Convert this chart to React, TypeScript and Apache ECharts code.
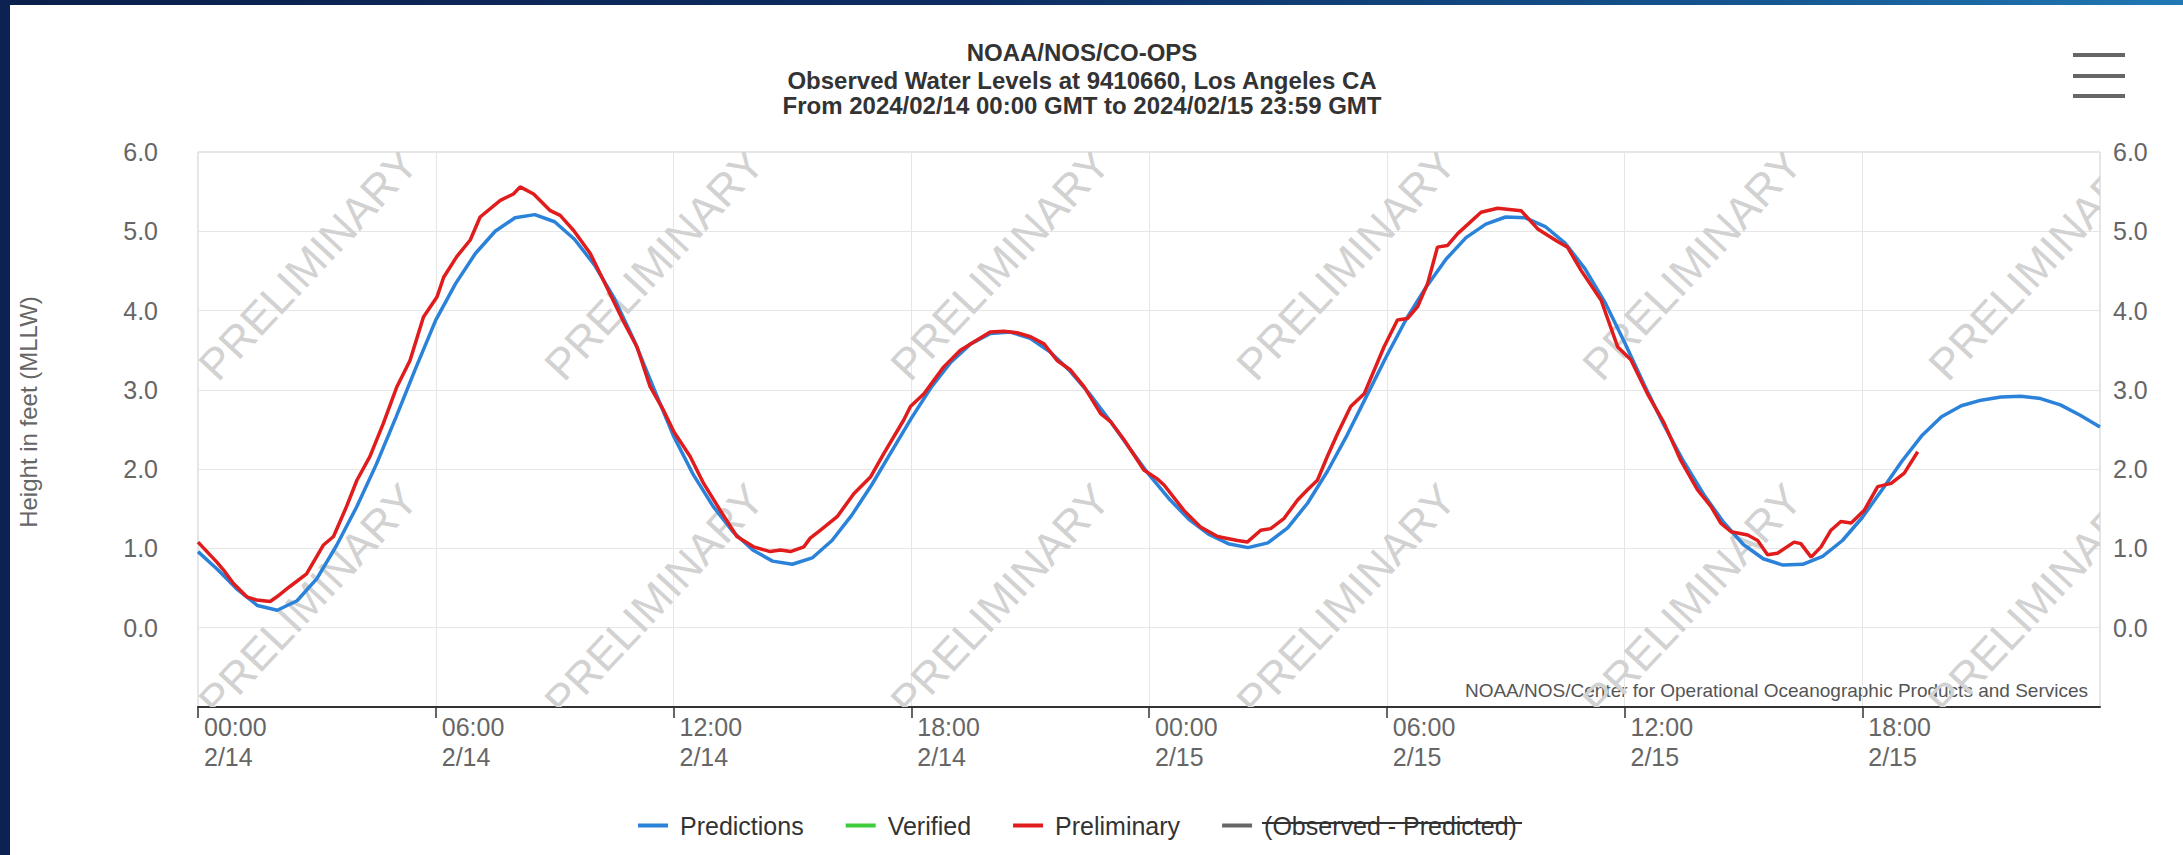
import React, { useEffect, useRef } from "react";
import * as echarts from "echarts";

// ---------- data (hours after 2024/02/14 00:00 GMT) ----------
const PRED_HOURS: number[] = [
  0, 0.5, 1, 1.5, 2, 2.5, 3, 3.5, 4, 4.5, 5, 5.5, 6, 6.5, 7, 7.5, 8, 8.5, 9, 9.5, 10, 10.5, 11, 11.5,
  12, 12.5, 13, 13.5, 14, 14.5, 15, 15.5, 16, 16.5, 17, 17.5, 18, 18.5, 19, 19.5, 20, 20.5, 21, 21.5, 22, 22.5, 23, 23.5,
  24, 24.5, 25, 25.5, 26, 26.5, 27, 27.5, 28, 28.5, 29, 29.5, 30, 30.5, 31, 31.5, 32, 32.5, 33, 33.5, 34, 34.5, 35, 35.5,
  36, 36.5, 37, 37.5, 38, 38.5, 39, 39.5, 40, 40.5, 41, 41.5, 42, 42.5, 43, 43.5, 44, 44.5, 45, 45.5, 46, 46.5, 47, 47.5, 48,
];
const PRED_VALUES: number[] = [
  0.96, 0.73, 0.48, 0.28, 0.22, 0.34, 0.62, 1.04, 1.52, 2.06, 2.66, 3.28, 3.88, 4.34, 4.72, 5.0, 5.17, 5.21, 5.12, 4.9, 4.58, 4.16, 3.63, 3.02,
  2.42, 1.93, 1.53, 1.21, 0.98, 0.84, 0.8, 0.88, 1.1, 1.42, 1.8, 2.22, 2.64, 3.03, 3.35, 3.58, 3.71, 3.73, 3.65, 3.48, 3.24, 2.95, 2.62, 2.27,
  1.93, 1.63, 1.37, 1.18, 1.06, 1.01, 1.07, 1.26, 1.57, 1.97, 2.43, 2.93, 3.43, 3.9, 4.3, 4.65, 4.92, 5.09, 5.18, 5.17, 5.06, 4.85, 4.53, 4.11,
  3.6, 3.06, 2.55, 2.09, 1.68, 1.33, 1.05, 0.87, 0.79, 0.8, 0.9, 1.1, 1.39, 1.74, 2.1, 2.42, 2.66, 2.8, 2.87, 2.91, 2.92, 2.89, 2.81, 2.68, 2.53,
];

const PRELIM_HOURS: number[] = [
  0, 0.47, 0.64, 0.89, 1.23, 1.48, 1.82, 1.99, 2.32, 2.74, 3.16, 3.42, 3.75, 4.01, 4.34, 4.68, 5.02, 5.35, 5.69, 6.03,
  6.2, 6.53, 6.87, 7.12, 7.63, 7.96, 8.13, 8.47, 8.89, 9.14, 9.48, 9.9, 10.4, 10.74, 11.08, 11.41, 11.75, 12.0, 12.42, 12.76,
  13.18, 13.6, 14.02, 14.44, 14.7, 14.95, 15.29, 15.45, 15.71, 16.13, 16.55, 16.97, 17.31, 17.81, 17.98, 18.32, 18.82, 19.24, 19.66, 19.99,
  20.34, 20.67, 21.01, 21.35, 21.68, 22.02, 22.36, 22.78, 23.03, 23.37, 23.87, 24.2, 24.38, 24.88, 25.3, 25.73, 26.23, 26.48, 26.82, 27.07,
  27.41, 27.75, 28.0, 28.25, 28.5, 28.76, 29.09, 29.43, 29.93, 30.27, 30.52, 30.78, 31.03, 31.28, 31.53, 31.79, 32.38, 32.8, 33.39, 33.81,
  34.31, 34.56, 34.9, 35.41, 35.83, 36.16, 36.58, 37.0, 37.42, 37.84, 38.18, 38.43, 38.69, 39.11, 39.36, 39.61, 39.86, 40.28, 40.45, 40.71,
  40.96, 41.21, 41.46, 41.72, 42.05, 42.39, 42.73, 43.06, 43.4,
];
const PRELIM_VALUES: number[] = [
  1.08, 0.83, 0.73, 0.56, 0.39, 0.35, 0.33, 0.39, 0.52, 0.68, 1.04, 1.15, 1.53, 1.86, 2.16, 2.58, 3.04, 3.37, 3.92, 4.17,
  4.42, 4.68, 4.89, 5.18, 5.39, 5.47, 5.56, 5.47, 5.26, 5.2, 5.01, 4.72, 4.21, 3.86, 3.54, 3.04, 2.74, 2.48, 2.16, 1.82,
  1.48, 1.15, 1.02, 0.96, 0.98, 0.96, 1.02, 1.13, 1.23, 1.4, 1.69, 1.9, 2.2, 2.62, 2.79, 2.95, 3.29, 3.5, 3.63, 3.73,
  3.74, 3.72, 3.67, 3.58, 3.37, 3.25, 3.04, 2.7, 2.6, 2.37, 1.99, 1.88, 1.8, 1.48, 1.27, 1.15, 1.1, 1.08, 1.23, 1.25,
  1.38, 1.61, 1.74, 1.86, 2.16, 2.45, 2.79, 2.95, 3.54, 3.88, 3.9, 4.05, 4.34, 4.8, 4.82, 4.97, 5.24, 5.29, 5.26, 5.03,
  4.87, 4.8, 4.51, 4.13, 3.54, 3.38, 2.95, 2.58, 2.11, 1.74, 1.53, 1.32, 1.21, 1.17, 1.1, 0.92, 0.94, 1.08, 1.06, 0.89,
  1.02, 1.23, 1.34, 1.32, 1.48, 1.78, 1.82, 1.95, 2.22,
];

const X_TICK_HOURS: number[] = [0, 6, 12, 18, 24, 30, 36, 42];
const X_TICK_LABELS: string[] = [
  "00:00\n2/14", "06:00\n2/14", "12:00\n2/14", "18:00\n2/14",
  "00:00\n2/15", "06:00\n2/15", "12:00\n2/15", "18:00\n2/15",
];
const Y_TICK_LABELS: string[] = ["0.0", "1.0", "2.0", "3.0", "4.0", "5.0", "6.0"];

const TITLE = "NOAA/NOS/CO-OPS";
const SUBTITLE = "Observed Water Levels at 9410660, Los Angeles CA\nFrom 2024/02/14 00:00 GMT to 2024/02/15 23:59 GMT";
const Y_NAME = "Height in feet (MLLW)";
const CREDITS = "NOAA/NOS/Center for Operational Oceanographic Products and Services";
const WATERMARK = "PRELIMINARY";

const FONT = "'Liberation Sans', Arial, Helvetica, sans-serif";

export default function App() {
  const ref = useRef<HTMLDivElement>(null);

  useEffect(() => {
    if (!ref.current) return;
    const chart = echarts.init(ref.current, undefined, { renderer: "svg" });

    const predData = PRED_HOURS.map((h, i) => [h, PRED_VALUES[i]]);
    const prelimData = PRELIM_HOURS.map((h, i) => [h, PRELIM_VALUES[i]]);

    const yLabel = (v: number) => {
      const i = Math.round(v);
      return i >= 0 && i < Y_TICK_LABELS.length ? Y_TICK_LABELS[i] : "";
    };

    const option: any = {
      animation: false,
      textStyle: { fontFamily: FONT },
      title: {
        text: TITLE,
        subtext: SUBTITLE,
        left: 1077,
        top: 35,
        textAlign: "center",
        itemGap: 4,
        textStyle: { fontFamily: FONT, fontSize: 24, fontWeight: "bold", color: "#333", lineHeight: 24 },
        subtextStyle: { fontFamily: FONT, fontSize: 24, fontWeight: "bold", color: "#333", lineHeight: 25 },
      },
      legend: {
        left: 633,
        top: 808,
        itemWidth: 30,
        itemHeight: 4,
        itemGap: 42,
        selectedMode: false,
        textStyle: { fontFamily: FONT, fontSize: 25, color: "#333", padding: [0, 0, 0, 7] },
        data: [
          { name: "Predictions", icon: "rect" },
          { name: "Verified", icon: "rect" },
          { name: "Preliminary", icon: "rect" },
          { name: "(Observed - Predicted)", icon: "rect" },
        ],
      },
      grid: {
        left: 198,
        right: 83,
        top: 152,
        bottom: 148,
        show: true,
        borderColor: "#cccccc",
        borderWidth: 1,
        backgroundColor: "transparent",
      },
      xAxis: {
        type: "value",
        min: 0,
        max: 48,
        interval: 6,
        axisLine: { show: true, onZero: false, lineStyle: { color: "#333", width: 2 } },
        axisTick: { show: true, length: 11, customValues: X_TICK_HOURS, lineStyle: { color: "#333", width: 1.5 } },
        splitLine: { show: true, lineStyle: { color: "#e6e6e6", width: 1 } },
        axisLabel: {
          customValues: X_TICK_HOURS,
          align: "left",
          verticalAlign: "top",
          margin: 5,
          padding: [0, 0, 0, 6],
          fontSize: 25,
          lineHeight: 30,
          color: "#666",
          fontFamily: FONT,
          formatter: (v: number) => {
            const i = X_TICK_HOURS.indexOf(Math.round(v));
            return i >= 0 ? X_TICK_LABELS[i] : "";
          },
        },
      },
      yAxis: [
        {
          type: "value",
          min: -1,
          max: 6,
          interval: 1,
          position: "left",
          axisLine: { show: false },
          axisTick: { show: false },
          splitLine: { show: true, lineStyle: { color: "#e6e6e6", width: 1 } },
          axisLabel: { margin: 40, fontSize: 25, color: "#666", fontFamily: FONT, padding: [5, 0, 0, 0], formatter: yLabel },
        },
        {
          type: "value",
          min: -1,
          max: 6,
          interval: 1,
          position: "right",
          axisLine: { show: false },
          axisTick: { show: false },
          splitLine: { show: false },
          axisLabel: { margin: 13, fontSize: 25, color: "#666", fontFamily: FONT, padding: [5, 0, 0, 0], formatter: yLabel },
        },
      ],
      series: [
        {
          type: "custom",
          name: "watermark",
          silent: true,
          clip: true,
          z: 1,
          legendHoverLink: false,
          data: [[0, 0]],
          renderItem: (params: any) => {
            const cs = params.coordSys;
            const children: any[] = [];
            for (let r = 0; r < 2; r++) {
              for (let c = 0; c < 6; c++) {
                children.push({
                  type: "text",
                  x: cs.x + 110 + c * 346,
                  y: cs.y + 112 + r * 336,
                  rotation: (47 * Math.PI) / 180,
                  style: {
                    text: WATERMARK,
                    fill: "#d2d2d2",
                    fontSize: 44,
                    fontFamily: FONT,
                    align: "center",
                    verticalAlign: "middle",
                  },
                });
              }
            }
            return { type: "group", children };
          },
        },
        {
          name: "Predictions",
          type: "line",
          data: predData,
          showSymbol: false,
          color: "#2b82d9",
          lineStyle: { width: 3.5, color: "#2b82d9" },
          z: 3,
        },
        {
          name: "Verified",
          type: "line",
          data: [],
          showSymbol: false,
          color: "#3ccc3c",
          lineStyle: { width: 3, color: "#3ccc3c" },
        },
        {
          name: "Preliminary",
          type: "line",
          data: prelimData,
          showSymbol: false,
          color: "#e01c1c",
          lineStyle: { width: 3.5, color: "#e01c1c" },
          z: 4,
        },
        {
          name: "(Observed - Predicted)",
          type: "line",
          data: [],
          showSymbol: false,
          color: "#666666",
          lineStyle: { width: 3, color: "#666666" },
        },
      ],
      graphic: [
        {
          type: "text",
          x: 28,
          y: 412,
          rotation: Math.PI / 2,
          style: { text: Y_NAME, fill: "#666", fontSize: 24, fontFamily: FONT, align: "center", verticalAlign: "middle" },
        },
        {
          type: "text",
          x: 2088,
          y: 690,
          style: { text: CREDITS, fill: "#555", fontSize: 19, fontFamily: FONT, align: "right", verticalAlign: "middle" },
        },
        { type: "rect", shape: { x: 2073, y: 53, width: 52, height: 4 }, style: { fill: "#666" } },
        { type: "rect", shape: { x: 2073, y: 74, width: 52, height: 4 }, style: { fill: "#666" } },
        { type: "rect", shape: { x: 2073, y: 94, width: 52, height: 4 }, style: { fill: "#666" } },
        { type: "line", shape: { x1: 1262, y1: 823, x2: 1522, y2: 823 }, style: { stroke: "#333", lineWidth: 2 } },
      ],
    };

    chart.setOption(option);
    return () => chart.dispose();
  }, []);

  return (
    <div style={{ position: "fixed", left: 0, top: 0, width: 2183, height: 855, overflow: "hidden", background: "#ffffff" }}>
      <div style={{ position: "absolute", left: 0, top: 0, width: 2183, height: 5, background: "linear-gradient(90deg, #0a1f4b 0%, #0d2d62 45%, #15558f 80%, #2078b4 100%)" }} />
      <div style={{ position: "absolute", left: 0, top: 0, width: 10, height: 855, background: "#0b2252" }} />
      <div ref={ref} style={{ position: "absolute", left: 0, top: 0, width: 2183, height: 855 }} />
    </div>
  );
}
